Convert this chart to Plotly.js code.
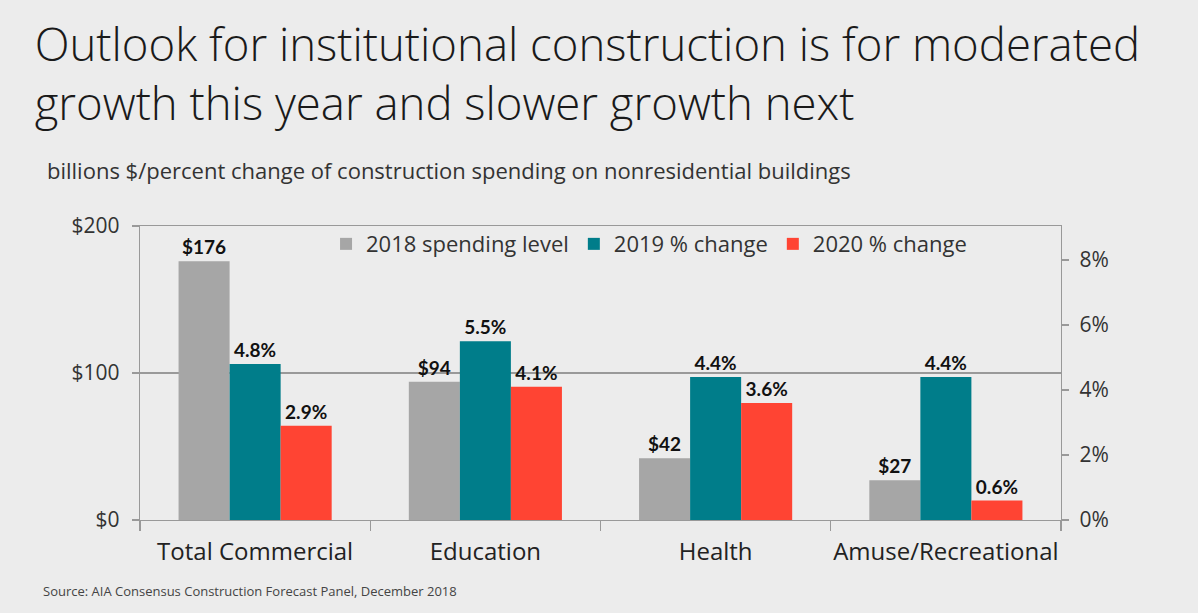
<!DOCTYPE html>
<html>
<head>
<meta charset="utf-8">
<script src="https://cdn.plot.ly/plotly-3.0.1.min.js"></script>
<style>
html,body{margin:0;padding:0;background:#ececec;}
#chart{width:1198px;height:613px;}
</style>
</head>
<body>
<div id="chart"></div>
<script>
const categories = ["Total Commercial", "Education", "Health", "Amuse/Recreational"];
const spending2018 = [176, 94, 42, 27];
const change2019 = [4.8, 5.5, 4.4, 4.4];
const change2020 = [2.9, 4.1, 3.6, 0.6];
const leftTickVals = [0, 100, 200];
const leftTickText = ["$0", "$100", "$200"];
const rightTickVals = [0, 2, 4, 6, 8];
const rightTickText = ["0%", "2%", "4%", "6%", "8%"];
const seriesNames = ["2018 spending level", "2019 % change", "2020 % change"];

const FONT = "'Open Sans', 'Noto Sans', sans-serif";
const LFONT = "Lato, 'Noto Sans', sans-serif";
const labelFont = {family: LFONT, size: 19, color: "#111", weight: 700};

const traces = [
  {
    type: "bar", name: seriesNames[0], x: categories, y: spending2018,
    yaxis: "y", offsetgroup: "a",
    marker: {color: "#a6a6a6"},
    text: spending2018.map(v => "$" + v), textposition: "outside",
    textfont: labelFont, cliponaxis: false, hoverinfo: "skip"
  },
  {
    type: "bar", name: seriesNames[1], x: categories, y: change2019,
    yaxis: "y2", offsetgroup: "b",
    marker: {color: "#007d8a"},
    text: change2019.map(v => v.toFixed(1) + "%"), textposition: "outside",
    textfont: labelFont, cliponaxis: false, hoverinfo: "skip"
  },
  {
    type: "bar", name: seriesNames[2], x: categories, y: change2020,
    yaxis: "y2", offsetgroup: "c",
    marker: {color: "#ff4433"},
    text: change2020.map(v => v.toFixed(1) + "%"), textposition: "outside",
    textfont: labelFont, cliponaxis: false, hoverinfo: "skip"
  }
];

const layout = {
  width: 1198, height: 613,
  paper_bgcolor: "#ececec", plot_bgcolor: "#ececec",
  margin: {l: 140, r: 137, t: 226, b: 93},
  font: {family: FONT, color: "#333"},
  barmode: "group", bargap: 0.335, bargroupgap: 0,
  showlegend: true,
  legend: {
    orientation: "h", x: 0.202, y: 1.01, xanchor: "left", yanchor: "top",
    bgcolor: "rgba(0,0,0,0)", font: {family: FONT, size: 22, color: "#333"},
    itemclick: false, itemdoubleclick: false, traceorder: "normal"
  },
  title: {
    text: "Outlook for institutional construction is for moderated<br>growth this year and slower growth next",
    x: 0.029, xref: "container", xanchor: "left",
    y: 0.901, yref: "container", yanchor: "top",
    font: {family: FONT, size: 45.5, color: "#1a1a1a", weight: 300}
  },
  xaxis: {
    type: "category", tickson: "boundaries", ticks: "outside", ticklen: 10,
    tickcolor: "#999", tickwidth: 1.3, tickangle: 0, automargin: false,
    showline: true, linecolor: "#999", linewidth: 1.3, mirror: true,
    tickfont: {family: FONT, size: 24, color: "#222"}, ticklabelstandoff: 10,
    showgrid: false, fixedrange: true
  },
  yaxis: {
    range: [0, 200], tickvals: leftTickVals, ticktext: leftTickText,
    ticks: "outside", ticklen: 7, tickcolor: "#999", tickwidth: 1.3,
    showline: true, linecolor: "#999", linewidth: 1.3,
    showgrid: true, gridcolor: "#999", gridwidth: 1.3, zeroline: false,
    tickfont: {family: FONT, size: 21, color: "#333"}, ticklabelstandoff: 8,
    fixedrange: true
  },
  yaxis2: {
    overlaying: "y", side: "right", range: [0, 9.05],
    tickvals: rightTickVals, ticktext: rightTickText,
    ticks: "outside", ticklen: 7, tickcolor: "#999", tickwidth: 1.3,
    showline: true, linecolor: "#999", linewidth: 1.3,
    showgrid: false, zeroline: false,
    tickfont: {family: FONT, size: 21, color: "#333"}, ticklabelstandoff: 6,
    fixedrange: true
  },
  annotations: [
    {
      text: "billions $/percent change of construction spending on nonresidential buildings",
      xref: "paper", yref: "paper", x: -0.103, y: 1.19, xanchor: "left", yanchor: "middle",
      showarrow: false,
      font: {family: FONT, size: 22, color: "#333"}
    },
    {
      text: "Source: AIA Consensus Construction Forecast Panel, December 2018",
      xref: "paper", yref: "paper", x: -0.108, y: -0.24, xanchor: "left", yanchor: "middle",
      showarrow: false,
      font: {family: FONT, size: 13, color: "#444"}
    }
  ]
};

Plotly.newPlot("chart", traces, layout, {displayModeBar: false, staticPlot: true});
</script>
</body>
</html>
